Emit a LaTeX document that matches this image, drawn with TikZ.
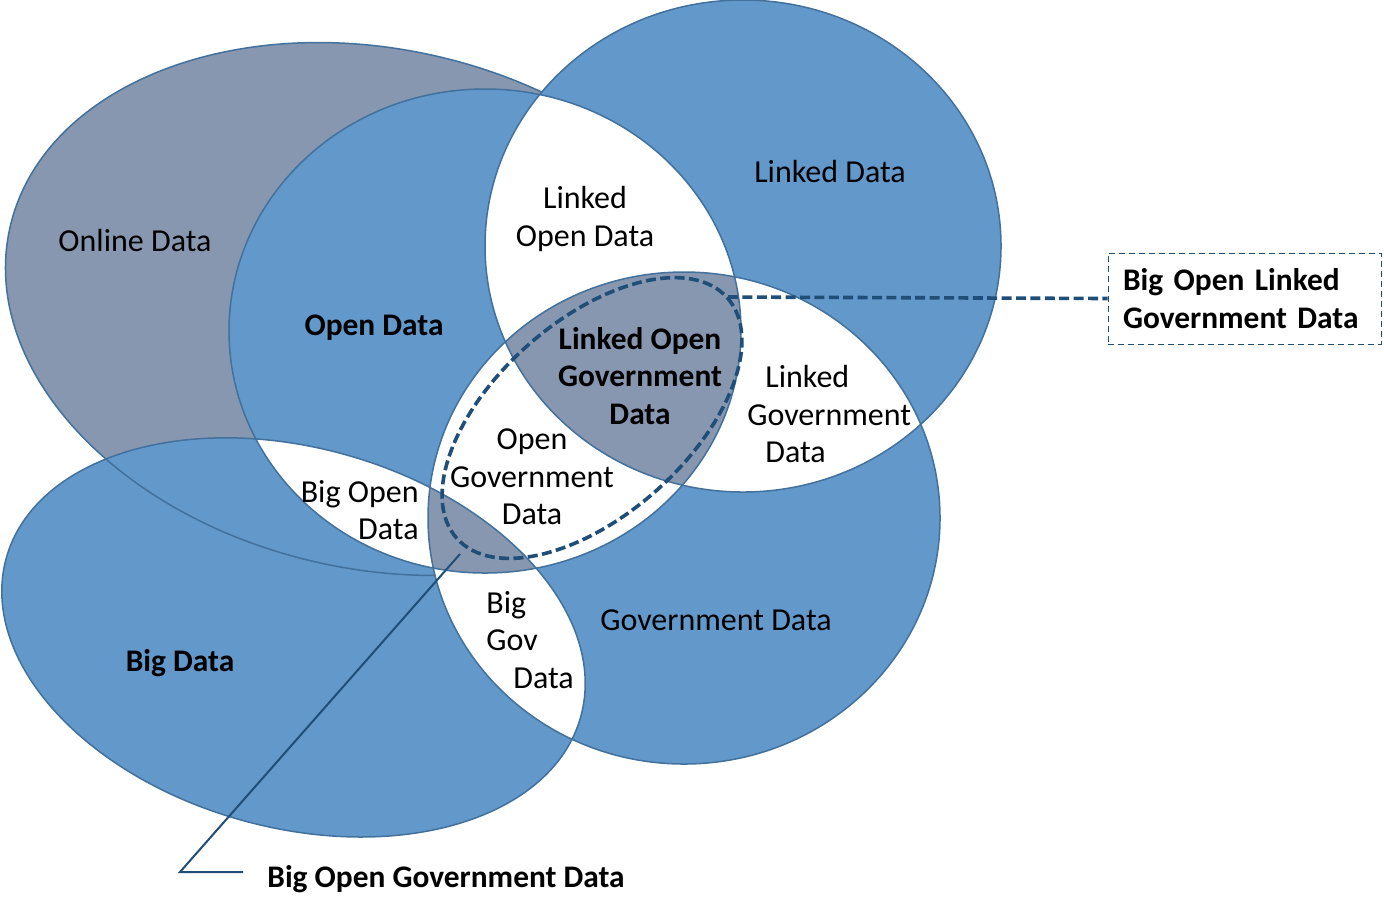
\documentclass[tikz,border=0pt]{standalone}
\usepackage{fontspec}
\setmainfont{Carlito}
\usepackage{tikz}
\usepackage{xcolor}
\definecolor{setblue}{RGB}{99,152,203}
\definecolor{setgray}{RGB}{135,151,176}
\definecolor{setedge}{RGB}{65,113,156}
\definecolor{darkline}{RGB}{31,78,121}
\tikzstyle{setfill}=[fill=setblue]
\tikzstyle{twofold}=[fill=white]
\tikzstyle{threefold}=[fill=setgray]
\tikzstyle{setline}=[draw=setedge,line width=0.75pt]
\tikzstyle{setname}=[inner sep=0,align=center,font=\fontsize{16}{18.8}\selectfont]
\tikzstyle{boldname}=[setname,font=\fontsize{15.7}{18.6}\selectfont\bfseries]
\tikzstyle{callout}=[draw=darkline,line width=1.8pt,dash pattern=on 5pt off 2.2pt]
\tikzstyle{calloutbox}=[draw=darkline,fill=white,line width=0.5pt,densely dashed,boldname,align=left,text width=121.5pt,inner xsep=7.5pt,minimum height=45.5pt]
\tikzstyle{pointer}=[draw=darkline,line width=1pt]
% the five data sets
\newcommand{\setonline}{[rotate around={-12.4:(376,309)}] (376,309) ellipse [x radius=375, y radius=260]}
\newcommand{\setopen}{(485,331) ellipse [x radius=256, y radius=242]}
\newcommand{\setlinked}{(743,246) ellipse [x radius=258, y radius=246]}
\newcommand{\setgov}{(684,518) ellipse [x radius=256, y radius=246]}
\newcommand{\setbig}{[rotate around={-15.4:(293.5,637.4)}] (293.5,637.4) ellipse [x radius=298, y radius=190]}
\begin{document}
\begin{tikzpicture}[x=0.5pt,y=-0.5pt]
		\useasboundingbox (0,0) rectangle (1384,896);
%online data at the back
		\fill[threefold] \setonline;
		\draw[setline] \setonline;
%the four blue sets
		\fill[setfill] \setopen;
		\fill[setfill] \setlinked;
		\fill[setfill] \setgov;
		\fill[setfill] \setbig;
		\begin{scope}
			\clip \setbig;
			\draw[setline] \setonline;
		\end{scope}
%two sets overlapping
		\begin{scope}
			\clip \setopen;
			\fill[twofold] \setlinked;
			\fill[twofold] \setgov;
			\fill[twofold] \setbig;
		\end{scope}
		\begin{scope}
			\clip \setgov;
			\fill[twofold] \setlinked;
			\fill[twofold] \setbig;
		\end{scope}
%three sets overlapping
		\begin{scope}
			\clip \setopen;
			\clip \setgov;
			\fill[threefold] \setlinked;
			\fill[threefold] \setbig;
		\end{scope}
%outlines
		\draw[setline] \setopen;
		\draw[setline] \setlinked;
		\draw[setline] \setgov;
		\draw[setline] \setbig;
%dashed big open linked government data
		\draw[callout,rotate around={41.6:(592,418)}] (592,418) ellipse [x radius=181, y radius=97];

		\node[setname](online) at (135,240){Online Data};
		\node[boldname](open) at (374,328){Open Data};
		\node[setname](linked) at (830,171){Linked Data};
		\node[setname](lod) at (585,219){Linked\\Open Data};
		\node[boldname](logd) at (640,376){Linked Open\\Government\\Data};
		\node[setname,anchor=west,align=left](lgd) at (747,414){\hspace*{9pt}Linked\\Government\\\hspace*{9pt}Data};
		\node[setname](ogd) at (532,477){Open\\Government\\Data};
		\node[setname,anchor=east,align=right](bod) at (419,510){Big Open\\Data};
		\node[setname,anchor=west,align=left](bgd) at (486,640){Big\\Gov\\\hspace*{13.5pt}Data};
		\node[setname](gov) at (716,620){Government Data};
		\node[boldname](big) at (180,663){Big Data};

%callouts
		\coordinate (bolgdTip) at (728,297);
		\node[calloutbox](bolgd) at (1244.5,298.5){Big Open Linked\\Government Data};
		\draw[callout] (bolgdTip) -- (bolgd.west);

		\coordinate (bogdTip) at (460,554);
		\coordinate (bogdBend) at (180,872);
		\coordinate (bogdEnd) at (243,872);
		\node[boldname,anchor=west](bogd) at (267,879){Big Open Government Data};
		\draw[pointer] (bogdTip) -- (bogdBend) -- (bogdEnd);
	\end{tikzpicture}
\end{document}
